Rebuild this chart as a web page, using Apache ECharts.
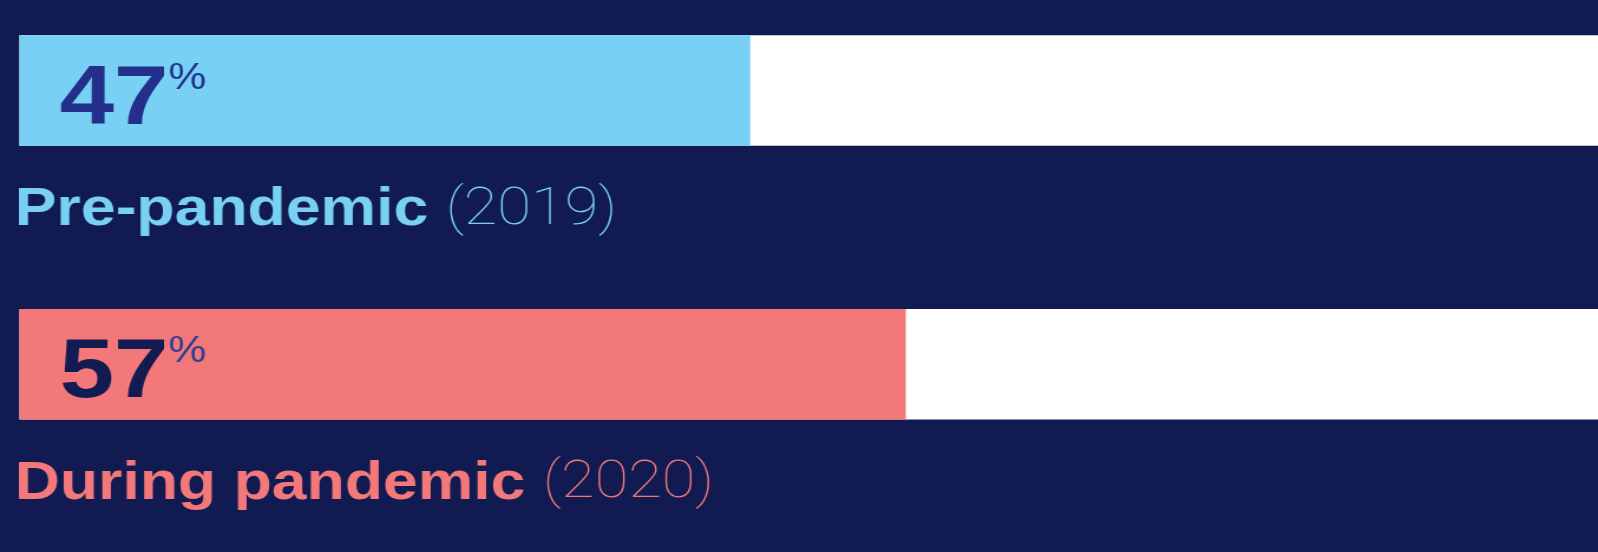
<!DOCTYPE html>
<html>
<head>
<meta charset="utf-8">
<script src="https://cdn.jsdelivr.net/npm/echarts@6/dist/echarts.min.js"></script>
<style>
  html, body { margin: 0; padding: 0; background: #111a51; overflow: hidden; }
  /* the source graphic is stretched sideways, so the chart is drawn narrower and widened */
  #ec { width: 1354px; height: 552px; transform: scaleX(1.18); transform-origin: 0 0; }
</style>
</head>
<body>
<div id="ec"></div>
<script>
var categories = ['Pre-pandemic', 'During pandemic'];
var years = ['(2019)', '(2020)'];
var values = [47, 57];

var barColors = ['#78d1f4', '#f3787a'];
var numColors = ['#232f8a', '#121b52'];
var pctColors = ['#232f8a', '#2f3c93'];

var myEchart = echarts.init(document.getElementById('ec'));

var valueData = values.map(function (v, i) {
  return {
    value: v,
    itemStyle: { color: barColors[i] },
    label: {
      rich: {
        num: { color: numColors[i] },
        pct: { color: pctColors[i] }
      }
    }
  };
});

var nameData = values.map(function (v, i) {
  return {
    value: v,
    label: {
      rich: {
        cat: { color: barColors[i] },
        yr: { color: barColors[i] }
      }
    }
  };
});

myEchart.setOption({
  backgroundColor: '#111a51',
  animation: false,
  // category centres sit on the grid edges (boundaryGap false)
  grid: { left: 16.44, right: 0, top: 90.6, bottom: 187.8 },
  xAxis: { type: 'value', min: 0, max: 101.5, show: false },
  yAxis: { type: 'category', inverse: true, boundaryGap: false, data: categories, show: false },
  series: [
    {
      type: 'bar',
      barWidth: 110.5,
      clip: false,
      showBackground: true,
      backgroundStyle: { color: '#ffffff' },
      data: valueData,
      label: {
        show: true,
        position: [34, 24],
        align: 'left',
        verticalAlign: 'top',
        formatter: function (p) { return '{num|' + p.value + '}{pct|%}'; },
        rich: {
          num: {
            fontFamily: '"Liberation Sans", Arial, sans-serif',
            fontWeight: 'bold', fontSize: 83, lineHeight: 83
          },
          pct: {
            fontFamily: '"Liberation Sans", Arial, sans-serif',
            fontSize: 36, height: 39, verticalAlign: 'top'
          }
        }
      }
    },
    {
      type: 'bar',
      barWidth: 110.5,
      barGap: '-100%',
      clip: false,
      itemStyle: { color: 'rgba(0,0,0,0)' },
      data: nameData,
      label: {
        show: true,
        position: [-4, 149],
        align: 'left',
        verticalAlign: 'top',
        formatter: function (p) {
          return '{cat|' + categories[p.dataIndex] + ' }{yr|' + years[p.dataIndex] + '}';
        },
        rich: {
          cat: {
            fontFamily: '"Liberation Sans", Arial, sans-serif',
            fontWeight: 'bold', fontSize: 53, lineHeight: 53
          },
          yr: {
            fontFamily: 'Roboto, Lato, sans-serif',
            fontWeight: 100, fontSize: 52, lineHeight: 53
          }
        }
      }
    }
  ]
});
</script>
</body>
</html>
